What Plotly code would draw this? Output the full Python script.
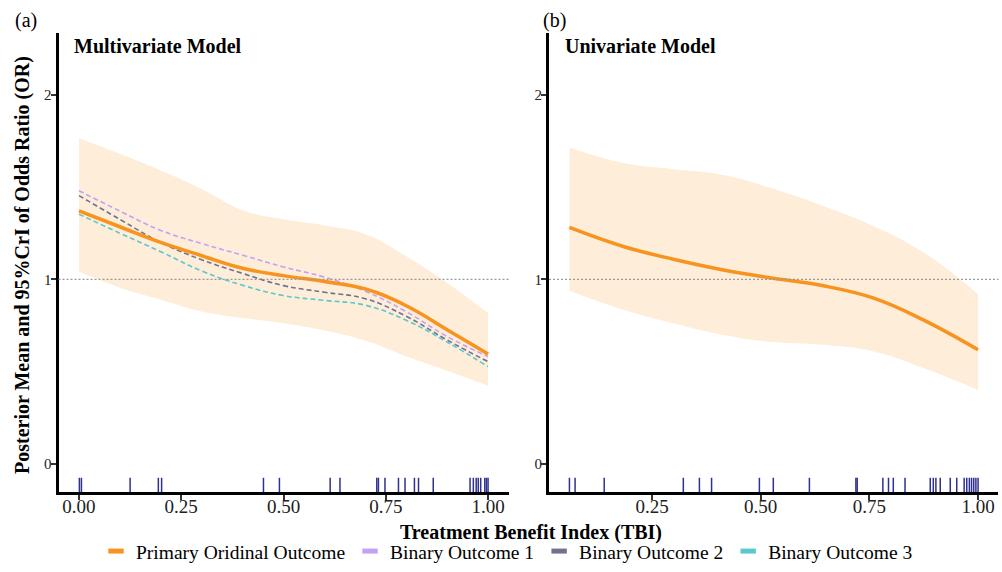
import plotly.graph_objects as go

FONT = 'Liberation Serif'

# panel (a) - multivariate model
multi_tbi = [0.0, 0.1, 0.2, 0.3, 0.4, 0.5, 0.6, 0.7, 0.8, 0.9, 1.0]
multi_primary = [1.371, 1.285, 1.20, 1.128, 1.06, 1.02, 0.988, 0.948, 0.857, 0.727, 0.596]
multi_upper = [1.765, 1.68, 1.59, 1.49, 1.375, 1.325, 1.292, 1.245, 1.125, 0.98, 0.817]
multi_lower = [1.042, 0.955, 0.89, 0.826, 0.79, 0.762, 0.723, 0.668, 0.582, 0.505, 0.423]
multi_binary1 = [1.48, 1.37, 1.265, 1.194, 1.131, 1.067, 1.012, 0.935, 0.825, 0.69, 0.582]
multi_binary2 = [1.454, 1.325, 1.20, 1.106, 1.032, 0.966, 0.93, 0.895, 0.80, 0.671, 0.554]
multi_binary3 = [1.353, 1.25, 1.15, 1.045, 0.968, 0.912, 0.886, 0.86, 0.778, 0.66, 0.527]
multi_rug = [0.001, 0.006, 0.125, 0.194, 0.202, 0.451, 0.490, 0.614, 0.638, 0.728,
             0.732, 0.748, 0.781, 0.797, 0.820, 0.830, 0.866, 0.956, 0.964, 0.971,
             0.976, 0.982, 0.992, 0.996, 1.0]

# panel (b) - univariate model
uni_tbi = [0.06, 0.184, 0.299, 0.414, 0.529, 0.644, 0.76, 0.874, 1.0]
uni_primary = [1.281, 1.178, 1.109, 1.051, 1.006, 0.965, 0.898, 0.78, 0.618]
uni_upper = [1.714, 1.63, 1.597, 1.566, 1.491, 1.398, 1.288, 1.147, 0.92]
uni_lower = [0.938, 0.835, 0.762, 0.699, 0.66, 0.645, 0.609, 0.519, 0.401]
uni_rug = [0.060, 0.073, 0.140, 0.322, 0.359, 0.387, 0.497, 0.529, 0.612, 0.719,
           0.722, 0.781, 0.794, 0.805, 0.832, 0.890, 0.897, 0.903, 0.913, 0.936,
           0.951, 0.968, 0.974, 0.980, 0.985, 0.990, 0.995, 1.0]

series_names = ['Primary Oridinal Outcome', 'Binary Outcome 1',
                'Binary Outcome 2', 'Binary Outcome 3']
series_colors = ['#F7931E', '#C4A0F7', '#6F7390', '#5CC7CE']
band_color = '#FDEDD9'
rug_color = '#2E3192'
RUG_Y = -0.117

fig = go.Figure()


def add_panel(xa, ya, tbi, upper, lower, lines, rug):
    fig.add_trace(go.Scatter(
        x=tbi, y=lower, mode='lines',
        line=dict(width=0, shape='spline', smoothing=1.2),
        xaxis=xa, yaxis=ya, showlegend=False, hoverinfo='skip'))
    fig.add_trace(go.Scatter(
        x=tbi, y=upper, mode='lines',
        line=dict(width=0, shape='spline', smoothing=1.2),
        fill='tonexty', fillcolor=band_color,
        xaxis=xa, yaxis=ya, showlegend=False, hoverinfo='skip'))
    # dashed binary outcomes first, primary on top
    for i in [1, 2, 3, 0]:
        if lines[i] is None:
            continue
        fig.add_trace(go.Scatter(
            x=tbi, y=lines[i], mode='lines',
            line=dict(color=series_colors[i], width=3.5 if i == 0 else 1.6,
                      dash='solid' if i == 0 else '5px,3px',
                      shape='spline', smoothing=1.2),
            xaxis=xa, yaxis=ya, showlegend=False, name=series_names[i]))
    fig.add_trace(go.Scatter(
        x=rug, y=[RUG_Y] * len(rug), mode='markers',
        marker=dict(symbol='line-ns', size=11,
                    line=dict(color=rug_color, width=1.5)),
        xaxis=xa, yaxis=ya, showlegend=False, hoverinfo='x'))
    # reference line at OR = 1
    fig.add_shape(type='line', xref=xa + ' domain', yref=ya, x0=0, x1=1,
                  y0=1, y1=1, layer='above',
                  line=dict(color='#9A9A9A', width=1.2, dash='2px,2px'))


add_panel('x', 'y', multi_tbi, multi_upper, multi_lower,
          [multi_primary, multi_binary1, multi_binary2, multi_binary3], multi_rug)
add_panel('x2', 'y2', uni_tbi, uni_upper, uni_lower,
          [uni_primary, None, None, None], uni_rug)

# legend entries as short bars
for name, col in zip(series_names, series_colors):
    fig.add_trace(go.Scatter(
        x=[None], y=[None], mode='markers', name=name,
        marker=dict(symbol='line-ew-open', size=11, color=col,
                    line=dict(color=col, width=5))))

xcommon = dict(showline=True, linewidth=3, linecolor='black', ticks='outside',
               ticklen=5, tickwidth=1.5, tickcolor='#333333', showgrid=False,
               zeroline=False, tickvals=[0, 0.25, 0.5, 0.75, 1.0],
               tickformat='.2f', ticklabelstandoff=-10,
               tickfont=dict(family=FONT, size=19, color='#222'))
ycommon = dict(showline=True, linewidth=3, linecolor='black', ticks='outside',
               ticklen=5, tickwidth=1.5, tickcolor='#333333', showgrid=False,
               zeroline=False, tickvals=[0, 1, 2], range=[-0.152, 2.334],
               ticklabelstandoff=-4,
               tickfont=dict(family=FONT, size=15, color='#222'),
               domain=[0.14, 0.942])

fig.update_layout(
    width=1002, height=572,
    margin=dict(l=0, r=0, t=0, b=0),
    paper_bgcolor='white', plot_bgcolor='white',
    font=dict(family=FONT, color='black'),
    xaxis=dict(xcommon, domain=[0.0584, 0.5075], range=[-0.05, 1.05], anchor='y'),
    xaxis2=dict(xcommon, domain=[0.5479, 0.9965], range=[0.013, 1.047], anchor='y2'),
    yaxis=dict(ycommon, anchor='x'),
    yaxis2=dict(ycommon, anchor='x2'),
    legend=dict(orientation='h', x=0.506, xanchor='center', y=0.036,
                yanchor='middle', font=dict(family=FONT, size=19.5),
                traceorder='normal', itemwidth=30, tracegroupgap=0),
    showlegend=True,
)

annotations = [
    dict(text='(a)', x=13 / 1002, y=1 - 20 / 572, xanchor='left', size=20, bold=False),
    dict(text='(b)', x=541 / 1002, y=1 - 20 / 572, xanchor='left', size=20, bold=False),
    dict(text='Multivariate Model', x=72 / 1002, y=1 - 46 / 572, xanchor='left',
         size=20, bold=True),
    dict(text='Univariate Model', x=563 / 1002, y=1 - 46 / 572, xanchor='left',
         size=20, bold=True),
    dict(text='Treatment Benefit Index (TBI)', x=531 / 1002, y=1 - 532 / 572,
         xanchor='center', size=20, bold=True),
]
for a in annotations:
    fig.add_annotation(
        text='<b>%s</b>' % a['text'] if a['bold'] else a['text'],
        x=a['x'], y=a['y'], xref='paper', yref='paper', xanchor=a['xanchor'],
        yanchor='middle', showarrow=False,
        font=dict(family=FONT, size=a['size'], color='black'))

fig.add_annotation(
    text='<b>Posterior Mean and 95%CrI of Odds Ratio (OR)</b>',
    x=22 / 1002, y=1 - 265 / 572, xref='paper', yref='paper', textangle=-90,
    xanchor='center', yanchor='middle', showarrow=False,
    font=dict(family=FONT, size=20, color='black'))

# the page's default body margin would shift the figure by 8px
fig.write_html('out.html', config={'displayModeBar': False},
               post_script="document.body.style.margin='0px';")
